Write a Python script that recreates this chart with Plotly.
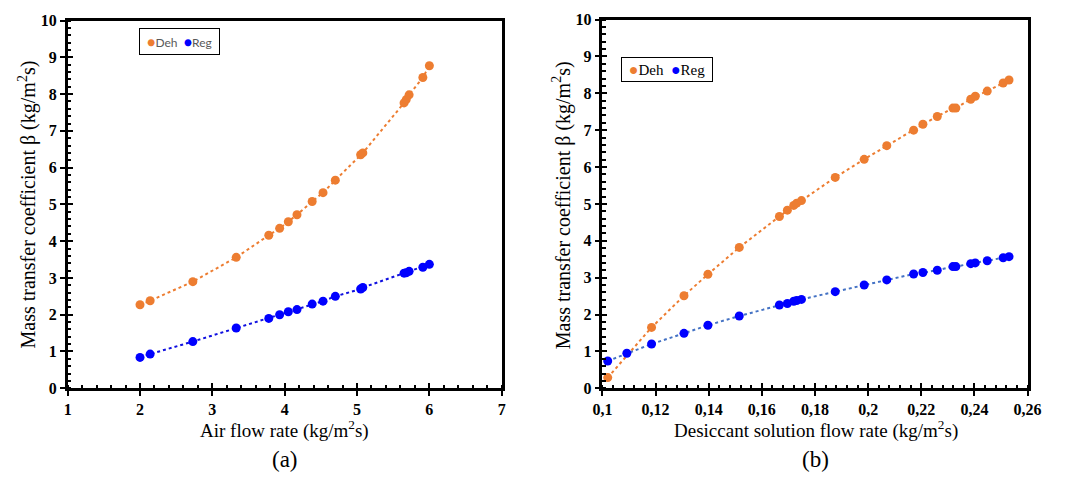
import plotly.graph_objects as go

# (a) air flow rate series
air_flow = [2.00, 2.14, 2.73, 3.33, 3.78, 3.93, 4.05, 4.17, 4.38, 4.53, 4.70,
            5.05, 5.08, 5.65, 5.68, 5.72, 5.91, 6.00]
air_deh = [2.27, 2.38, 2.90, 3.56, 4.16, 4.35, 4.53, 4.72, 5.08, 5.32, 5.66,
           6.35, 6.40, 7.76, 7.85, 7.98, 8.45, 8.77]
air_reg = [0.84, 0.93, 1.27, 1.64, 1.90, 2.00, 2.08, 2.14, 2.29, 2.37, 2.50,
           2.70, 2.74, 3.13, 3.14, 3.18, 3.29, 3.37]

# (b) desiccant solution flow rate series
sol_flow_deh = [0.102, 0.1185, 0.1307, 0.1397, 0.1515, 0.1666, 0.1696, 0.1720,
                0.1731, 0.1749, 0.1876, 0.1985, 0.2070, 0.2171, 0.2206, 0.2260,
                0.2319, 0.2330, 0.2386, 0.2403, 0.2448, 0.2508, 0.2530]
sol_deh = [0.29, 1.65, 2.51, 3.09, 3.82, 4.66, 4.83, 4.96, 5.02, 5.09, 5.72,
           6.21, 6.58, 7.00, 7.16, 7.37, 7.60, 7.60, 7.84, 7.92, 8.06, 8.28, 8.36]
sol_flow_reg = [0.102, 0.1092, 0.1185, 0.1307, 0.1397, 0.1515, 0.1666, 0.1696,
                0.1720, 0.1731, 0.1749, 0.1876, 0.1985, 0.2070, 0.2171, 0.2206,
                0.2260, 0.2319, 0.2330, 0.2386, 0.2403, 0.2448, 0.2508, 0.2530]
sol_reg = [0.74, 0.95, 1.20, 1.49, 1.71, 1.96, 2.26, 2.30, 2.36, 2.38, 2.41,
           2.62, 2.80, 2.94, 3.10, 3.14, 3.20, 3.30, 3.30, 3.38, 3.40, 3.46,
           3.54, 3.57]

series_names = ["Deh", "Reg"]

y_ticks = list(range(0, 11))
x_ticks_a = list(range(1, 8))
x_ticks_b = [0.10, 0.12, 0.14, 0.16, 0.18, 0.20, 0.22, 0.24, 0.26]
x_labels_b = ["0,1", "0,12", "0,14", "0,16", "0,18", "0,2", "0,22", "0,24", "0,26"]

ORANGE = "#ED7D31"
BLUE = "#0000FF"
BLUE_LINE = "#4472C4"
SERIF = "Times New Roman"
SANS = "Lato"

fig = go.Figure()

# panel (a)
fig.add_trace(go.Scatter(x=air_flow, y=air_deh, mode="lines+markers", xaxis="x", yaxis="y",
                         name=series_names[0], line=dict(color=ORANGE, width=2, dash="dot"),
                         marker=dict(color=ORANGE, size=9)))
fig.add_trace(go.Scatter(x=air_flow, y=air_reg, mode="lines+markers", xaxis="x", yaxis="y",
                         name=series_names[1], line=dict(color="#1010E0", width=2, dash="dot"),
                         marker=dict(color=BLUE, size=9)))
# panel (b)
fig.add_trace(go.Scatter(x=sol_flow_deh, y=sol_deh, mode="lines+markers", xaxis="x2", yaxis="y2",
                         name=series_names[0], line=dict(color=ORANGE, width=2, dash="dot"),
                         marker=dict(color=ORANGE, size=9)))
fig.add_trace(go.Scatter(x=sol_flow_reg, y=sol_reg, mode="lines+markers", xaxis="x2", yaxis="y2",
                         name=series_names[1], line=dict(color=BLUE_LINE, width=2, dash="dot"),
                         marker=dict(color=BLUE, size=9)))

XD_A = [59 / 1069, 503 / 1069]
XD_B = [606 / 1069, 1041 / 1069]
YD = [(488 - 394) / 488, (488 - 13) / 488]
YD_B = [(488 - 394) / 488, (488 - 12) / 488]

tickfont = dict(family=SERIF, size=16, color="black", weight="bold")
common = dict(showline=True, linecolor="black", linewidth=2.5, mirror=True,
              ticks="outside", ticklen=5, tickwidth=2, tickcolor="black",
              showgrid=False, zeroline=False, tickfont=tickfont)
minor_y = dict(ticks="inside", dtick=0.2, ticklen=4, tickwidth=1.5, tickcolor="black")


def inner_ticks(over, anchor, rng, vals):
    return dict(overlaying=over, anchor=anchor, range=rng, tickvals=vals, ticks="inside",
                ticklen=5, tickwidth=2, tickcolor="black", showticklabels=False,
                showgrid=False, zeroline=False, showline=False)


fig.update_layout(
    width=1069, height=488,
    margin=dict(l=0, r=0, t=0, b=0),
    paper_bgcolor="white", plot_bgcolor="white",
    font=dict(family=SERIF),
    showlegend=False,
    xaxis=dict(domain=XD_A, range=[1, 7], tickvals=x_ticks_a, anchor="y",
               minor=dict(ticks="inside", dtick=0.2, ticklen=4, tickwidth=1.5, tickcolor="black"),
               **common),
    yaxis=dict(domain=YD, range=[0, 10], tickvals=y_ticks, anchor="x", minor=minor_y, **common),
    xaxis2=dict(domain=XD_B, range=[0.1, 0.26], tickvals=x_ticks_b, ticktext=x_labels_b,
                anchor="y2",
                minor=dict(ticks="inside", tick0=0.1, dtick=0.004, ticklen=4, tickwidth=1.5,
                           tickcolor="black"),
                **common),
    yaxis2=dict(domain=YD_B, range=[0, 10], tickvals=y_ticks, anchor="x2", minor=minor_y, **common),
    # inner halves of the major ticks
    xaxis3=inner_ticks("x", "y", [1, 7], x_ticks_a),
    yaxis3=inner_ticks("y", "x", [0, 10], y_ticks),
    xaxis4=inner_ticks("x2", "y2", [0.1, 0.26], x_ticks_b),
    yaxis4=inner_ticks("y2", "x2", [0, 10], y_ticks),
)

# empty traces so the overlay axes get drawn
fig.add_trace(go.Scatter(x=[None], y=[None], xaxis="x3", yaxis="y3"))
fig.add_trace(go.Scatter(x=[None], y=[None], xaxis="x4", yaxis="y4"))


def key_text(dot_px):
    dot = "<span style='color:{c};font-size:%dpx'>●</span>" % dot_px
    return ("&nbsp;" + dot.format(c=ORANGE) + series_names[0] + "&nbsp;&nbsp;"
            + dot.format(c=BLUE) + series_names[1] + "&nbsp;")


title_font = dict(family=SERIF, size=19, color="black")
ytitle_font = dict(family=SERIF, size=20, color="black")
ann = [
    dict(text="Mass transfer coefficient β (kg/m<sup>2</sup>s)", x=18 / 1069, y=(488 - 204) / 488,
         textangle=-90, font=ytitle_font),
    dict(text="Mass transfer coefficient β (kg/m<sup>2</sup>s)", x=565 / 1069, y=(488 - 204) / 488,
         textangle=-90, font=ytitle_font),
    dict(text="Air flow rate (kg/m<sup>2</sup>s)", x=281 / 1069, y=(488 - 437) / 488, font=title_font),
    dict(text="Desiccant solution flow rate (kg/m<sup>2</sup>s)", x=824 / 1069, y=(488 - 437) / 488,
         font=title_font),
    dict(text="(a)", x=281 / 1069, y=(488 - 468) / 488, font=dict(family=SERIF, size=23, color="black")),
    dict(text="(b)", x=824 / 1069, y=(488 - 468) / 488, font=dict(family=SERIF, size=23, color="black")),
    # series keys
    dict(text=key_text(14), x=173 / 1069, y=(488 - 35) / 488,
         font=dict(family=SANS, size=12, color="#595959"),
         bordercolor="black", borderwidth=1, borderpad=4, bgcolor="white"),
    dict(text=key_text(16), x=672 / 1069, y=(488 - 64) / 488,
         font=dict(family=SERIF, size=15, color="black"),
         bordercolor="black", borderwidth=1, borderpad=3, bgcolor="white"),
]
for a in ann:
    fig.add_annotation(xref="paper", yref="paper", showarrow=False, xanchor="center",
                       yanchor="middle", **a)

fig.write_html("out.html")
